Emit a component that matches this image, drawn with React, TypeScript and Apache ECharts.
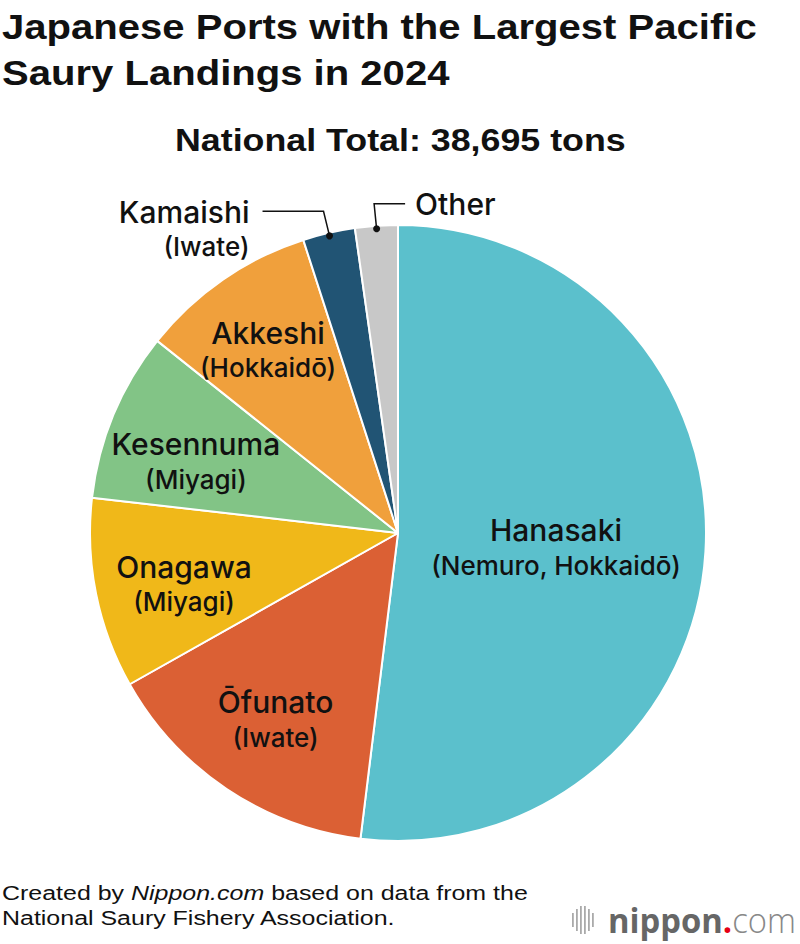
import React, { useEffect, useRef } from "react";
import * as echarts from "echarts";

const ports = ["Hanasaki", "Ōfunato", "Onagawa", "Kesennuma", "Akkeshi", "Kamaishi", "Other"];
const prefectures = ["(Nemuro, Hokkaidō)", "(Iwate)", "(Miyagi)", "(Miyagi)", "(Hokkaidō)", "(Iwate)", ""];
const landings = [20100, 5760, 3870, 3440, 3600, 1060, 865];
const colors = ["#5bc0cc", "#db6034", "#f0b819", "#82c486", "#f0a03c", "#215474", "#c8c8c8"];

const TITLE_LINES = ["Japanese Ports with the Largest Pacific", "Saury Landings in 2024"];
const SUBTITLE = "National Total: 38,695 tons";
const FOOTER_LINES = ["Created by Nippon.com based on data from the", "National Saury Fishery Association."];

// label placement inside slices: [angle nudge in degrees, fraction of radius]
const INSIDE_LABEL_PLACE = [[1.7, 0.515], [-0.5, 0.724], [-1.9, 0.714], [-3.1, 0.696], [-0.7, 0.729]];

const CX = 398;
const CY = 533;
const R = 308;

const sans = "'Liberation Sans', Arial, sans-serif";
const labelFont = "Inter, 'Noto Sans', sans-serif";

function measure(text: string, font: string) {
  const c = document.createElement("canvas").getContext("2d")!;
  c.font = font;
  return c.measureText(text).width;
}

export default function App() {
  const ref = useRef<HTMLDivElement>(null);
  useEffect(() => {
    document.body.style.margin = "0";
    const chart = echarts.init(ref.current!, null, { renderer: "svg" });
    const total = landings.reduce((a, b) => a + b, 0);
    let cum = 0;
    const mids: number[] = landings.map((v) => {
      const m = ((cum + v / 2) / total) * Math.PI * 2;
      cum += v;
      return m;
    });
    const pt = (ang: number, k: number) => [CX + k * R * Math.sin(ang), CY - k * R * Math.cos(ang)];

    const graphics: any[] = [];
    const Z = 100;
    const nameFont = `500 30px ${labelFont}`;
    const subFont = `500 26px ${labelFont}`;

    // Title lines (condensed by horizontal scaling)
    const titleFont = `bold 36px ${sans}`;
    const l1w = measure(TITLE_LINES[0], titleFont);
    const tScale = 755 / l1w;
    TITLE_LINES.forEach((t, i) => {
      graphics.push({
        type: "text", z: Z, x: 2, y: 27 + i * 46, scaleX: tScale,
        style: { text: t, font: titleFont, fill: "#111", align: "left", verticalAlign: "middle" },
      });
    });
    const subFontT = `bold 31px ${sans}`;
    const sw = measure(SUBTITLE, subFontT);
    const sScale = 451 / sw;
    graphics.push({
      type: "text", z: Z, x: 175, y: 140, scaleX: sScale,
      style: { text: SUBTITLE, font: subFontT, fill: "#111", align: "left", verticalAlign: "middle" },
    });

    ports.forEach((p, i) => {
      if (i >= 5) return;
      const [da, k] = INSIDE_LABEL_PLACE[i];
      const [x, y] = pt(mids[i] + (da * Math.PI) / 180, k);
      graphics.push({
        type: "text", z: Z, x, y: y - 17,
        style: { text: p, font: nameFont, fill: "#111", align: "center", verticalAlign: "middle" },
      });
      graphics.push({
        type: "text", z: Z, x, y: y + 18,
        style: { text: prefectures[i], font: subFont, fill: "#111", align: "center", verticalAlign: "middle" },
      });
    });
    // Kamaishi leader
    {
      const [dx, dy] = pt(mids[5], 0.99);
      const bx = dx - 6, by = dy - 24.5;
      graphics.push({ type: "circle", z: Z, shape: { cx: dx, cy: dy, r: 3.5 }, style: { fill: "#111" } });
      graphics.push({ type: "polyline", z: Z, shape: { points: [[dx, dy], [bx, by], [bx - 61, by]] }, style: { stroke: "#111", lineWidth: 1.5, fill: null } });
      graphics.push({ type: "text", z: Z, x: bx - 74, y: by + 1, style: { text: ports[5], font: nameFont, fill: "#111", align: "right", verticalAlign: "middle" } });
      graphics.push({ type: "text", z: Z, x: bx - 74, y: by + 35, style: { text: prefectures[5], font: subFont, fill: "#111", align: "right", verticalAlign: "middle" } });
    }
    // Other leader
    {
      const [dx, dy] = pt(mids[6], 0.99);
      const bx = dx - 2.5, by = dy - 25;
      graphics.push({ type: "circle", z: Z, shape: { cx: dx, cy: dy, r: 3.5 }, style: { fill: "#111" } });
      graphics.push({ type: "polyline", z: Z, shape: { points: [[dx, dy], [bx, by], [bx + 31, by]] }, style: { stroke: "#111", lineWidth: 1.5, fill: null } });
      graphics.push({ type: "text", z: Z, x: bx + 41, y: by, style: { text: ports[6], font: nameFont, fill: "#111", align: "left", verticalAlign: "middle" } });
    }
    // footer
    const fFont = `20px ${sans}`;
    const fScale = 526 / measure(FOOTER_LINES[0], fFont);
    const parts = FOOTER_LINES[0].split("Nippon.com");
    graphics.push({
      type: "text", z: Z, x: 2, y: 881, scaleX: fScale,
      style: {
        text: `{n|${parts[0]}}{i|Nippon.com}{n|${parts[1]}}\n{n|${FOOTER_LINES[1]}}`,
        rich: {
          n: { font: fFont, fill: "#111", lineHeight: 25 },
          i: { font: `italic ${fFont}`, fill: "#111", lineHeight: 25 },
        },
      },
    });
    // logo bars
    const bars = [[572, 913, 14], [576, 909, 22], [580, 906, 28], [584, 906, 28], [588, 909, 22], [592, 913, 14]];
    bars.forEach(([x, y, h]) => graphics.push({ type: "rect", z: Z, shape: { x, y, width: 1.8, height: h }, style: { fill: "#aaa" } }));
    const logoA = `bold 34px 'Open Sans', sans-serif`;
    const logoC = `300 34px 'Open Sans', sans-serif`;
    const logoW = measure("nippon.", logoA) + measure("com", logoC);
    graphics.push({
      type: "text", z: Z, x: 608, y: 920, scaleX: 188 / logoW,
      style: {
        text: "{a|nippon}{b|.}{c|com}",
        verticalAlign: "middle",
        rich: {
          a: { font: logoA, fill: "#666" },
          b: { font: logoA, fill: "#e60012" },
          c: { font: logoC, fill: "#888" },
        },
      },
    });

    chart.setOption({
      animation: false,
      backgroundColor: "#fff",
      series: [
        {
          type: "pie",
          center: [CX, CY],
          radius: [0, R],
          startAngle: 90,
          clockwise: true,
          label: { show: false },
          labelLine: { show: false },
          silent: true,
          itemStyle: { borderColor: "#fff", borderWidth: 2 },
          data: ports.map((p, i) => ({ name: p, value: landings[i], itemStyle: { color: colors[i] } })),
        },
      ],
      graphic: graphics,
    });
    return () => chart.dispose();
  }, []);
  return <div ref={ref} style={{ width: 800, height: 944 }} />;
}
